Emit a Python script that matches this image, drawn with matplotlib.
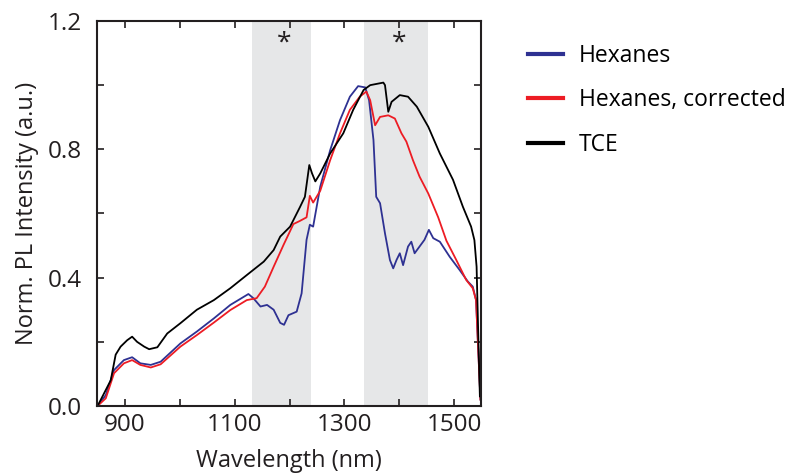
import numpy as np
import matplotlib.pyplot as plt

plt.rcParams['font.family'] = ['Open Sans', 'DejaVu Sans']

# wavelength (nm) and normalized PL intensity
tce_wl = [850, 859, 874, 883, 892, 904, 913, 922, 935, 944, 959, 977, 1001, 1031,
          1062, 1092, 1122, 1153, 1171, 1183, 1201, 1219, 1228, 1236, 1241, 1247,
          1256, 1274, 1298, 1316, 1335, 1347, 1371, 1374, 1380, 1386, 1401, 1416,
          1432, 1453, 1474, 1498, 1516, 1531, 1537, 1541, 1544, 1547]
tce_int = [0.0, 0.03, 0.08, 0.16, 0.185, 0.205, 0.216, 0.20, 0.185, 0.177, 0.183,
           0.226, 0.258, 0.30, 0.33, 0.367, 0.408, 0.45, 0.486, 0.528, 0.559, 0.62,
           0.652, 0.751, 0.725, 0.70, 0.725, 0.787, 0.85, 0.923, 0.985, 1.0, 1.008,
           1.0, 0.917, 0.948, 0.969, 0.964, 0.933, 0.87, 0.787, 0.705, 0.621, 0.559,
           0.517, 0.434, 0.226, 0.03]

hex_wl = [850, 865, 880, 898, 913, 928, 947, 965, 1001, 1031, 1062, 1092, 1125,
          1134, 1147, 1159, 1171, 1183, 1190, 1198, 1213, 1222, 1231, 1237, 1243,
          1256, 1274, 1292, 1310, 1325, 1338, 1345, 1353, 1358, 1365, 1374, 1383,
          1389, 1395, 1401, 1407, 1416, 1422, 1428, 1437, 1446, 1454, 1462, 1474,
          1492, 1510, 1525, 1534, 1540, 1544, 1548]
hex_int = [0.0, 0.034, 0.112, 0.143, 0.152, 0.133, 0.128, 0.138, 0.195, 0.232,
           0.273, 0.315, 0.349, 0.336, 0.31, 0.315, 0.30, 0.259, 0.253, 0.283, 0.294,
           0.351, 0.518, 0.565, 0.559, 0.684, 0.797, 0.891, 0.964, 0.997, 0.993,
           0.953, 0.829, 0.652, 0.632, 0.538, 0.455, 0.429, 0.455, 0.476, 0.439,
           0.497, 0.512, 0.476, 0.497, 0.518, 0.549, 0.523, 0.512, 0.465, 0.424,
           0.388, 0.372, 0.33, 0.175, 0.02]

corr_wl = [850, 865, 880, 898, 913, 928, 947, 965, 1001, 1031, 1062, 1092, 1122,
           1140, 1155, 1171, 1189, 1207, 1219, 1231, 1237, 1243, 1256, 1274, 1292,
           1310, 1328, 1340, 1347, 1356, 1365, 1380, 1392, 1404, 1413, 1425, 1437,
           1453, 1471, 1486, 1504, 1522, 1534, 1540, 1544, 1548]
corr_int = [0.0, 0.024, 0.102, 0.133, 0.143, 0.128, 0.12, 0.13, 0.185, 0.221, 0.26,
            0.299, 0.33, 0.336, 0.372, 0.434, 0.502, 0.567, 0.577, 0.588, 0.655,
            0.634, 0.671, 0.766, 0.85, 0.923, 0.964, 0.98, 0.953, 0.875, 0.901,
            0.906, 0.896, 0.85, 0.824, 0.766, 0.715, 0.662, 0.588, 0.515, 0.455,
            0.393, 0.367, 0.33, 0.175, 0.02]

# absorption bands of the solvent (shaded) and where the asterisks sit
bands = [(1132, 1239), (1336, 1453)]
star_wl = [1190, 1400]

fig = plt.figure(figsize=(7.92, 4.75), dpi=100)
ax = fig.add_axes([0.1225, 0.1453, 0.4848, 0.8105])

for lo, hi in bands:
    ax.axvspan(lo, hi, color='#e6e7e8', lw=0, zorder=0)
for w in star_wl:
    ax.text(w, 1.13, '*', ha='center', va='center', fontsize=19, color='#231f20')

ax.plot(hex_wl, hex_int, color='#2e3192', lw=1.3, label='Hexanes')
ax.plot(corr_wl, corr_int, color='#ed1c24', lw=1.3, label='Hexanes, corrected')
ax.plot(tce_wl, tce_int, color='#000000', lw=1.3, label='TCE')

ax.set_xlim(849, 1549)
ax.set_ylim(0, 1.2)
ax.set_xticks(np.arange(900, 1501, 100))
ax.set_xticklabels(['900', '', '1100', '', '1300', '', '1500'])
ax.set_yticks(np.arange(0, 1.21, 0.2))
ax.set_yticklabels(['0.0', '', '0.4', '', '0.8', '', '1.2'])
ax.tick_params(direction='in', top=True, right=True, length=5, width=1.2,
               labelsize=17.5, colors='#231f20')
ax.tick_params(axis='x', pad=5)
ax.tick_params(axis='y', pad=11)
for s in ax.spines.values():
    s.set_linewidth(1.5)
    s.set_color('#231f20')

ax.set_xlabel('Wavelength (nm)', fontsize=17, color='#231f20', labelpad=9)
ax.set_ylabel('Norm. PL Intensity (a.u.)', fontsize=17, color='#231f20', labelpad=6)

leg = ax.legend(loc='upper left', bbox_to_anchor=(1.07, 0.995), frameon=False,
                fontsize=16.5, handlelength=1.5, handletextpad=0.7, labelspacing=0.9)
for line in leg.get_lines():
    line.set_linewidth(3)

fig.savefig('out.png', dpi=100)
